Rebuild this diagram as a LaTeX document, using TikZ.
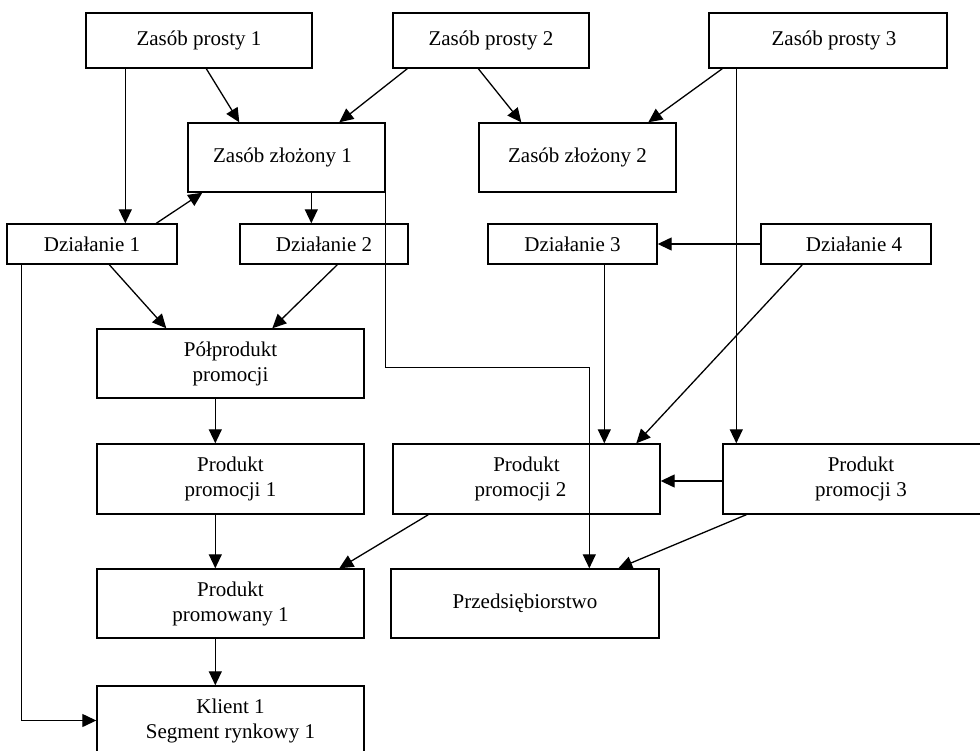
\documentclass[tikz,border=0pt]{standalone}
\usepackage{fontspec}
\setmainfont{Liberation Serif}
\usepackage{tikz}
\usetikzlibrary{positioning,arrows.meta}

\tikzset{
  blok/.style={draw, rectangle, line width=1.4pt, inner sep=0pt, align=center,
    font=\fontsize{21pt}{25pt}\selectfont},
  strzalka/.style={line width=1.3pt, -{Triangle[length=14pt,width=13pt]}}
}

\begin{document}
\begin{tikzpicture}[x=1pt, y=-1pt]
    \useasboundingbox (0,0) rectangle (980,750);
    \clip (0,0) rectangle (980,750);

    % Simple resources
    \node[blok, minimum width=226pt, minimum height=55pt] (zp1) at (199,40.5) {Zasób prosty 1};
    \node[blok, minimum width=196pt, minimum height=55pt] (zp2) at (491,40.5) {Zasób prosty 2};
    \node[blok, minimum width=238pt, minimum height=55pt] (zp3) at (828,40.5) {\hspace*{12pt}Zasób prosty 3};

    % Compound resources
    \node[blok, minimum width=197pt, minimum height=69pt] (zz1) at (286.5,157.5) {Zasób złożony 1\hspace*{8pt}};
    \node[blok, minimum width=197pt, minimum height=69pt] (zz2) at (577.5,157.5) {Zasób złożony 2};

    % Actions
    \node[blok, minimum width=170pt, minimum height=40pt] (dz1) at (92,244) {Działanie 1};
    \node[blok, minimum width=168pt, minimum height=40pt] (dz2) at (324,244) {Działanie 2};
    \node[blok, minimum width=169pt, minimum height=40pt] (dz3) at (572.5,244) {Działanie 3};
    \node[blok, minimum width=170pt, minimum height=40pt] (dz4) at (846,244) {\hspace*{16pt}Działanie 4};

    % Products
    \node[blok, minimum width=267pt, minimum height=69pt] (polp) at (230.5,363.5) {Półprodukt\\promocji};
    \node[blok, minimum width=267pt, minimum height=70pt] (pp1) at (230.5,479) {Produkt\\promocji 1};
    \node[blok, minimum width=267pt, minimum height=70pt] (pp2) at (526.5,479) {Produkt\\promocji 2\hspace*{12pt}};
    \node[blok, minimum width=276pt, minimum height=70pt] (pp3) at (861,479) {Produkt\\promocji 3};
    \node[blok, minimum width=267pt, minimum height=69pt] (ppow1) at (230.5,603.5) {Produkt\\promowany 1};
    \node[blok, minimum width=268pt, minimum height=69pt] (przed) at (525,603.5) {Przedsiębiorstwo};

    % Client
    \node[blok, minimum width=267pt, minimum height=69pt] (klient) at (230.5,720.5) {Klient 1\\Segment rynkowy 1};

    % Connections
    \draw[strzalka] ([xshift=40pt]zp1.south west) -- ([xshift=40pt]zp1.south west |- dz1.north);
    \draw[strzalka] ([xshift=121pt]zp1.south west) -- ([xshift=52pt]zz1.north west);
    \draw[strzalka] ([xshift=15pt]zp2.south west) -- ([xshift=152pt]zz1.north west);
    \draw[strzalka] ([xshift=86pt]zp2.south west) -- ([xshift=43pt]zz2.north west);
    \draw[strzalka] ([xshift=14pt]zp3.south west) -- ([xshift=170pt]zz2.north west);
    \draw[strzalka] ([xshift=28pt]zp3.south west) -- ([xshift=28pt]zp3.south west |- pp3.north);
    \draw[strzalka] ([xshift=150pt]dz1.north west) -- ([xshift=15pt]zz1.south west);
    \draw[strzalka] ([xshift=124pt]zz1.south west) -- ([xshift=124pt]zz1.south west |- dz2.north);
    \draw[strzalka] ([yshift=25pt]zz1.south east) -- ++(0,200) -| ([xshift=199pt]przed.north west);
    \draw[strzalka] ([xshift=103pt]dz1.south west) -- ([xshift=70pt]polp.north west);
    \draw[strzalka] ([xshift=98pt]dz2.south west) -- ([xshift=176pt]polp.north west);
    \draw[strzalka] (dz4) -- (dz3);
    \draw[strzalka] ([xshift=117pt]dz3.south west) -- ([xshift=117pt]dz3.south west |- pp2.north);
    \draw[strzalka] ([xshift=42pt]dz4.south west) -- ([xshift=244pt]pp2.north west);
    \draw[strzalka] ([yshift=-2pt]pp3.west) -- ([yshift=-2pt]pp2.east);
    \draw[strzalka] ([xshift=119pt]polp.south west) -- ([xshift=119pt]pp1.north west);
    \draw[strzalka] ([xshift=119pt]pp1.south west) -- ([xshift=119pt]ppow1.north west);
    \draw[strzalka] ([xshift=119pt]ppow1.south west) -- ([xshift=119pt]klient.north west);
    \draw[strzalka] ([xshift=36pt]pp2.south west) -- ([xshift=243pt]ppow1.north west);
    \draw[strzalka] ([xshift=24pt]pp3.south west) -- ([xshift=228pt]przed.north west);
    \draw[strzalka] ([xshift=15pt]dz1.south west) |- (klient.west);
\end{tikzpicture}
\end{document}
